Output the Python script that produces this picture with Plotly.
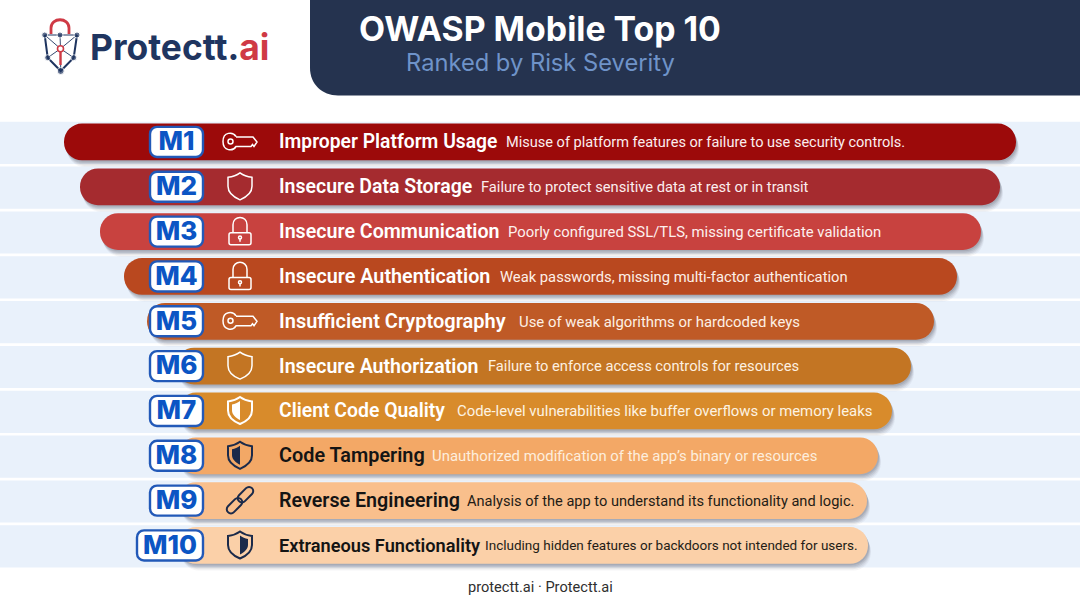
import math
import plotly.graph_objects as go

# --- data ---
ranks = [1, 2, 3, 4, 5, 6, 7, 8, 9, 10]
codes = ["M1", "M2", "M3", "M4", "M5", "M6", "M7", "M8", "M9", "M10"]
titles = ["Improper Platform Usage", "Insecure Data Storage", "Insecure Communication",
          "Insecure Authentication", "Insufficient Cryptography", "Insecure Authorization",
          "Client Code Quality", "Code Tampering", "Reverse Engineering", "Extraneous Functionality"]
descriptions = ["Misuse of platform features or failure to use security controls.",
                "Failure to protect sensitive data at rest or in transit",
                "Poorly configured SSL/TLS, missing certificate validation",
                "Weak passwords, missing multi-factor authentication",
                "Use of weak algorithms or hardcoded keys",
                "Failure to enforce access controls for resources",
                "Code-level vulnerabilities like buffer overflows or memory leaks",
                "Unauthorized modification of the app’s binary or resources",
                "Analysis of the app to understand its functionality and logic.",
                "Including hidden features or backdoors not intended for users."]
bar_start = [64, 80, 100, 124, 147, 176, 178, 178, 178, 178]
bar_end = [1016, 1000, 981, 957, 934, 911, 892, 878, 867, 868]
badge_start = [150, 150, 150, 150, 150, 150, 150, 150, 150, 137]
icons = ["key", "shield", "lock", "lock", "key", "shield", "half_left", "half_left_dark", "chain", "half_right_dark"]

# --- styles / layout ---
bar_colors = ["#9c0a0a", "#a52b2f", "#c8423f", "#b9481f", "#bf5a26",
              "#c37523", "#d88b2b", "#f3a866", "#f9bf8c", "#fbd0a8"]
title_colors = ["#ffffff"] * 7 + ["#141414"] * 3
desc_colors = ["#fbeeee", "#fbeeee", "#fdf0ee", "#fdf0e8", "#fdf0e4",
               "#fdf0e0", "#fdf3e2", "#fdeedd", "#241c16", "#241c16"]
desc_x = [506, 481, 508, 500, 519, 488, 457, 432, 467, 485]
title_sizes = [19.3, 19.5, 19.65, 19.75, 20, 19.6, 19.4, 19.85, 19.7, 18.2]
desc_sizes = [14.55, 14.7, 14.85, 14.75, 14.9, 14.7, 14.9, 14.9, 14.6, 13.5]
NAVY = "#25334f"
LOGO_NAVY = "#1f3560"
LOGO_RED = "#cf3a45"
ICON_X = 240
DARK = "#1b2a4a"
TEXT_DROP = 0.045  # rank units, text sits a touch under the bar centre

fig = go.Figure()

# pale rows behind the bars
fig.add_trace(go.Bar(y=ranks, x=[1080] * 10, base=[0] * 10, orientation="h", width=0.94, offset=-0.44,
                     marker=dict(color="#e9f1fb", line=dict(width=0)), hoverinfo="skip"))

# soft shadows, stacked
widths = [e - s for s, e in zip(bar_start, bar_end)]
for dx, off, alpha in [(3, 0.15, 0.05), (2.5, 0.12, 0.07), (2, 0.09, 0.09), (1.5, 0.06, 0.11), (1, 0.03, 0.12)]:
    fig.add_trace(go.Bar(y=ranks, x=widths, base=[s + dx for s in bar_start], orientation="h",
                         width=0.82, offset=-0.40 + off,
                         marker=dict(color=f"rgba(60,60,70,{alpha})", cornerradius=18, line=dict(width=0)),
                         hoverinfo="skip"))

# main bars
fig.add_trace(go.Bar(y=ranks, x=widths, base=bar_start, orientation="h", width=0.82, offset=-0.40,
                     marker=dict(color=bar_colors, cornerradius=18, line=dict(width=0)), hoverinfo="skip"))

# badges
fig.add_trace(go.Bar(y=ranks, x=[203 - s for s in badge_start], base=badge_start, orientation="h",
                     width=0.67, offset=-0.325,
                     marker=dict(color="#ffffff", cornerradius=7, line=dict(color="#2259b8", width=2.4)),
                     hoverinfo="skip"))
fig.add_trace(go.Scatter(x=[(s + 203) / 2 for s in badge_start], y=[r + 0.05 for r in ranks], mode="text", text=codes,
                         textposition="middle center",
                         textfont=dict(family="Inter", size=26, weight=800, color="#0b55c4"), hoverinfo="skip"))

# row texts
text_y = [r + TEXT_DROP for r in ranks]
fig.add_trace(go.Scatter(x=[279] * 10, y=text_y, mode="text", text=titles, textposition="middle right",
                         textfont=dict(family="Roboto", size=title_sizes, weight=600, color=title_colors),
                         hoverinfo="skip"))
fig.add_trace(go.Scatter(x=desc_x, y=text_y, mode="text", text=descriptions, textposition="middle right",
                         textfont=dict(family="Roboto", size=desc_sizes, color=desc_colors), hoverinfo="skip"))


# --- icon paths, written y-down around the icon centre ---
def flip(path):
    out, is_y = [], False
    for tok in path.split():
        if tok.isalpha():
            out.append(tok)
            is_y = False
        else:
            out.append(f"{-float(tok):.2f}" if is_y else tok)
            is_y = not is_y
    return " ".join(out)


def circle(cx, cy, r):
    k = r * 0.5523
    return (f"M {cx + r} {cy} C {cx + r} {cy + k} {cx + k} {cy + r} {cx} {cy + r} "
            f"C {cx - k} {cy + r} {cx - r} {cy + k} {cx - r} {cy} "
            f"C {cx - r} {cy - k} {cx - k} {cy - r} {cx} {cy - r} "
            f"C {cx + k} {cy - r} {cx + r} {cy - k} {cx + r} {cy} Z")


def capsule(cx, cy, half, r, deg):
    a = math.radians(deg)

    def p(u, v):
        return f"{cx + u * math.cos(a) - v * math.sin(a):.2f} {cy + u * math.sin(a) + v * math.cos(a):.2f}"
    k = r * 0.5523
    return (f"M {p(-half, -r)} L {p(half, -r)} C {p(half + k, -r)} {p(half + r, -k)} {p(half + r, 0)} "
            f"C {p(half + r, k)} {p(half + k, r)} {p(half, r)} L {p(-half, r)} "
            f"C {p(-half - k, r)} {p(-half - r, k)} {p(-half - r, 0)} "
            f"C {p(-half - r, -k)} {p(-half - k, -r)} {p(-half, -r)} Z")


SHIELD = ("M 0 -13.5 C 4 -10.5 8 -9.5 12 -9 L 12 0 C 12 6.5 6 11 0 13.5 "
          "C -6 11 -12 6.5 -12 0 L -12 -9 C -8 -9.5 -4 -10.5 0 -13.5 Z")
HALF_L = "M 0 -9.5 C -2.5 -7.5 -5 -6.5 -8 -6 L -8 0 C -8 4 -4 7.5 0 9.5 Z"
HALF_R = "M 0 -9.5 C 2.5 -7.5 5 -6.5 8 -6 L 8 0 C 8 4 4 7.5 0 9.5 Z"
LOCK_BODY = ("M -9 1.5 L 9 1.5 C 10.2 1.5 11 2.3 11 3.5 L 11 11.5 C 11 12.7 10.2 13.5 9 13.5 "
             "L -9 13.5 C -10.2 13.5 -11 12.7 -11 11.5 L -11 3.5 C -11 2.3 -10.2 1.5 -9 1.5 Z")
LOCK_SHACKLE = "M -7 1.5 L -7 -6.5 C -7 -16 7 -16 7 -6.5 L 7 1.5"
KEY = ("M -4 -5 C -7 -10 -17 -10 -17 0 C -17 10 -7 10 -4 5 L 11 5 L 12.5 3 L 14 5 L 17 0.5 L 13 -4.5 L -4 -4.5")


def add_icon(rank, name):
    def draw(path, fill="rgba(0,0,0,0)", stroke="#ffffff", width=1.5):
        fig.add_shape(type="path", path=flip(path), xref="x", yref="y", xsizemode="pixel", ysizemode="pixel",
                      xanchor=ICON_X, yanchor=rank, fillcolor=fill, line=dict(color=stroke, width=width),
                      layer="above")
    if name == "key":
        draw(KEY)
        draw(circle(-9.5, 0, 2.5))
    elif name == "shield":
        draw(SHIELD)
    elif name == "lock":
        draw(LOCK_SHACKLE)
        draw(LOCK_BODY)
        draw(circle(0, 6.3, 1.5))
        draw("M 0 7.5 L 0 10.5")
    elif name == "half_left":
        draw(SHIELD, width=2)
        draw(HALF_L, fill="#ffffff", width=0)
    elif name == "half_left_dark":
        draw(SHIELD, stroke=DARK, width=2)
        draw(HALF_L, fill=DARK, stroke=DARK, width=0)
    elif name == "half_right_dark":
        draw(SHIELD, stroke=DARK, width=2)
        draw(HALF_R, fill=DARK, stroke=DARK, width=0)
    elif name == "chain":
        draw(capsule(-5.5, 5.5, 5, 4.2, -45), stroke=DARK, width=2)
        draw(capsule(5.5, -5.5, 5, 4.2, -45), stroke=DARK, width=2)


for r, n in zip(ranks, icons):
    add_icon(r, n)

# header panel
fig.add_shape(type="path", xref="x", yref="y2", layer="below", fillcolor=NAVY, line=dict(width=0),
              path="M 310 0 L 1080 0 L 1080 95.5 L 338 95.5 C 322 95.5 310 84 310 68 Z")

# logo, on the pixel axis
shield_x = [44.7, 47.7, 60.7, 73.7, 77]
shield_y = [35, 57.7, 71, 57.7, 35]
fig.add_trace(go.Scatter(x=shield_x, y=shield_y, yaxis="y2", mode="lines", line=dict(color=LOGO_NAVY, width=2),
                         hoverinfo="skip"))
fig.add_shape(type="path", xref="x", yref="y2", layer="above", line=dict(color=LOGO_RED, width=2.8),
              path="M 51 34 L 51 28 C 51 17 69 17 69 28 L 69 34")
for nx, ny in zip(shield_x + [60], shield_y + [35]):
    fig.add_trace(go.Scatter(x=[nx, 60.5], y=[ny, 48.7], yaxis="y2", mode="lines",
                             line=dict(color=LOGO_NAVY, width=0.9), hoverinfo="skip"))
fig.add_trace(go.Scatter(x=[44.7, 77], y=[35, 35], yaxis="y2", mode="lines", line=dict(color=LOGO_NAVY, width=1.2),
                         hoverinfo="skip"))
fig.add_trace(go.Scatter(x=[60.5, 60.5], y=[52, 65], yaxis="y2", mode="lines", line=dict(color=LOGO_RED, width=2.4),
                         hoverinfo="skip"))
fig.add_trace(go.Scatter(x=shield_x + [60], y=shield_y + [35], yaxis="y2", mode="markers",
                         marker=dict(color=LOGO_NAVY, size=[6, 6, 7, 6, 6, 6]), hoverinfo="skip"))
fig.add_trace(go.Scatter(x=[60.5], y=[48.7], yaxis="y2", mode="markers",
                         marker=dict(color="#ffffff", size=6, line=dict(color=LOGO_RED, width=1.6)), hoverinfo="skip"))


def header_text(x, y, text, family, size, color, weight=400, anchor="left"):
    fig.add_annotation(x=x, y=y, xref="x", yref="y2", text=text, showarrow=False, xanchor=anchor, yanchor="middle",
                       font=dict(family=family, size=size, color=color, weight=weight))


header_text(88, 47, f'Protectt.<span style="color:{LOGO_RED}">ai</span>', "Inter", 35.4, LOGO_NAVY, 700)
header_text(357, 28, "OWASP Mobile Top 10", "Inter", 33.8, "#ffffff", 700)
header_text(404, 62, "Ranked by Risk Severity", "Inter", 23.7, "#6f93c9")
header_text(540, 587, "protectt.ai · Protectt.ai", "Roboto", 14.6, "#2f2f2f", anchor="center")

fig.update_layout(
    width=1080, height=603,
    margin=dict(l=0, r=0, t=0, b=0),
    paper_bgcolor="white", plot_bgcolor="white",
    barmode="overlay", showlegend=False,
    xaxis=dict(range=[0, 1080], visible=False, fixedrange=True),
    yaxis=dict(range=[11.294, -2.156], visible=False, fixedrange=True),
    yaxis2=dict(range=[603, 0], visible=False, overlaying="y", fixedrange=True),
)

# page margin off, the chart fills the window
fig.write_html("out.html", config=dict(displayModeBar=False),
               post_script="document.body.style.margin='0';document.body.style.overflow='hidden';")
